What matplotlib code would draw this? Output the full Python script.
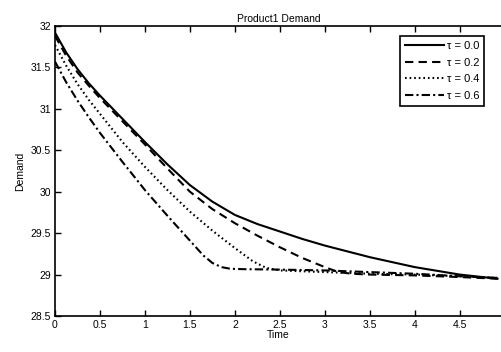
import matplotlib
matplotlib.use('Agg')
import matplotlib.pyplot as plt

# ---------------- data ----------------

t_solid = [0, 0.125, 0.25, 0.375, 0.5, 0.75, 1.0, 1.25, 1.5, 1.75, 2.0, 2.25, 2.5, 2.75, 3.0, 3.5, 4.0, 4.5, 4.92]
d_solid = [31.92, 31.68, 31.48, 31.31, 31.16, 30.88, 30.6, 30.33, 30.08, 29.88, 29.72, 29.61, 29.52, 29.43, 29.35, 29.21, 29.09, 29.0, 28.95]

t_dash = [0, 0.125, 0.25, 0.375, 0.5, 0.75, 1.0, 1.25, 1.5, 1.75, 2.0, 2.25, 2.5, 2.75, 3.0, 3.15, 3.3, 3.5, 4.0, 4.5, 4.92]
d_dash = [31.88, 31.64, 31.44, 31.28, 31.13, 30.85, 30.57, 30.28, 30.0, 29.79, 29.62, 29.47, 29.33, 29.2, 29.09, 29.03, 29.01, 29.0, 28.99, 28.97, 28.95]

t_dot = [0, 0.125, 0.25, 0.375, 0.5, 0.75, 1.0, 1.25, 1.5, 1.75, 2.0, 2.2, 2.35, 2.5, 2.75, 3.0, 3.5, 4.0, 4.5, 4.92]
d_dot = [31.77, 31.52, 31.3, 31.11, 30.94, 30.6, 30.3, 30.02, 29.76, 29.53, 29.32, 29.16, 29.08, 29.05, 29.04, 29.03, 29.01, 29.0, 28.98, 28.96]

t_dashdot = [0, 0.125, 0.25, 0.375, 0.5, 0.75, 1.0, 1.25, 1.5, 1.65, 1.75, 1.85, 1.95, 2.1, 2.5, 3.0, 3.5, 4.0, 4.5, 4.92]
d_dashdot = [31.57, 31.32, 31.1, 30.9, 30.71, 30.36, 30.02, 29.71, 29.41, 29.23, 29.14, 29.09, 29.07, 29.065, 29.06, 29.05, 29.03, 29.01, 28.98, 28.96]

labels = ['\u03c4 = 0.0', '\u03c4 = 0.2', '\u03c4 = 0.4', '\u03c4 = 0.6']

x_ticks = [0, 0.5, 1, 1.5, 2, 2.5, 3, 3.5, 4, 4.5]
x_tick_labels = ['0', '0.5', '1', '1.5', '2', '2.5', '3', '3.5', '4', '4.5']
y_ticks = [28.5, 29, 29.5, 30, 30.5, 31, 31.5, 32]
y_tick_labels = ['28.5', '29', '29.5', '30', '30.5', '31', '31.5', '32']

# ----------------------------------------------------------

plt.rcParams['font.family'] = ['Liberation Sans', 'DejaVu Sans']
plt.rcParams['font.size'] = 7.5

fig = plt.figure(figsize=(5.02, 3.52), dpi=100)
ax = fig.add_axes([55 / 502, 1 - 316 / 352, (502 - 55) / 502, (316 - 26) / 352])

lw = 1.5
ax.plot(t_solid, d_solid, color='black', lw=lw, linestyle='-', label=labels[0])
ax.plot(t_dash, d_dash, color='black', lw=lw, linestyle=(0, (4, 2.5)), label=labels[1])
ax.plot(t_dot, d_dot, color='black', lw=lw, linestyle=(0, (0.8, 1.4)), label=labels[2])
ax.plot(t_dashdot, d_dashdot, color='black', lw=lw, linestyle=(0, (4, 1.5, 1, 1.5)), label=labels[3])

ax.set_xlim(0, 4.97)
ax.set_ylim(28.5, 32)
ax.set_xticks(x_ticks)
ax.set_xticklabels(x_tick_labels)
ax.set_yticks(y_ticks)
ax.set_yticklabels(y_tick_labels)
ax.tick_params(direction='in', top=True, right=False, length=4, width=1, pad=3)

ax.spines['right'].set_visible(False)
for s in ['left', 'bottom', 'top']:
    ax.spines[s].set_linewidth(1.2)

ax.set_title('Product1 Demand', fontsize=7.5, pad=3)
ax.set_xlabel('Time', labelpad=0)
ax.set_ylabel('Demand', labelpad=4)

leg = ax.legend(loc='upper left', bbox_to_anchor=(400 / 502, 1 - 36 / 352), bbox_transform=fig.transFigure,
                fancybox=False, edgecolor='black', framealpha=1, fontsize=8, handlelength=3.5, handletextpad=0.25,
                labelspacing=0.6, borderpad=0.45, borderaxespad=0)
leg.get_frame().set_linewidth(1.2)

fig.savefig('out.png', dpi=100)
